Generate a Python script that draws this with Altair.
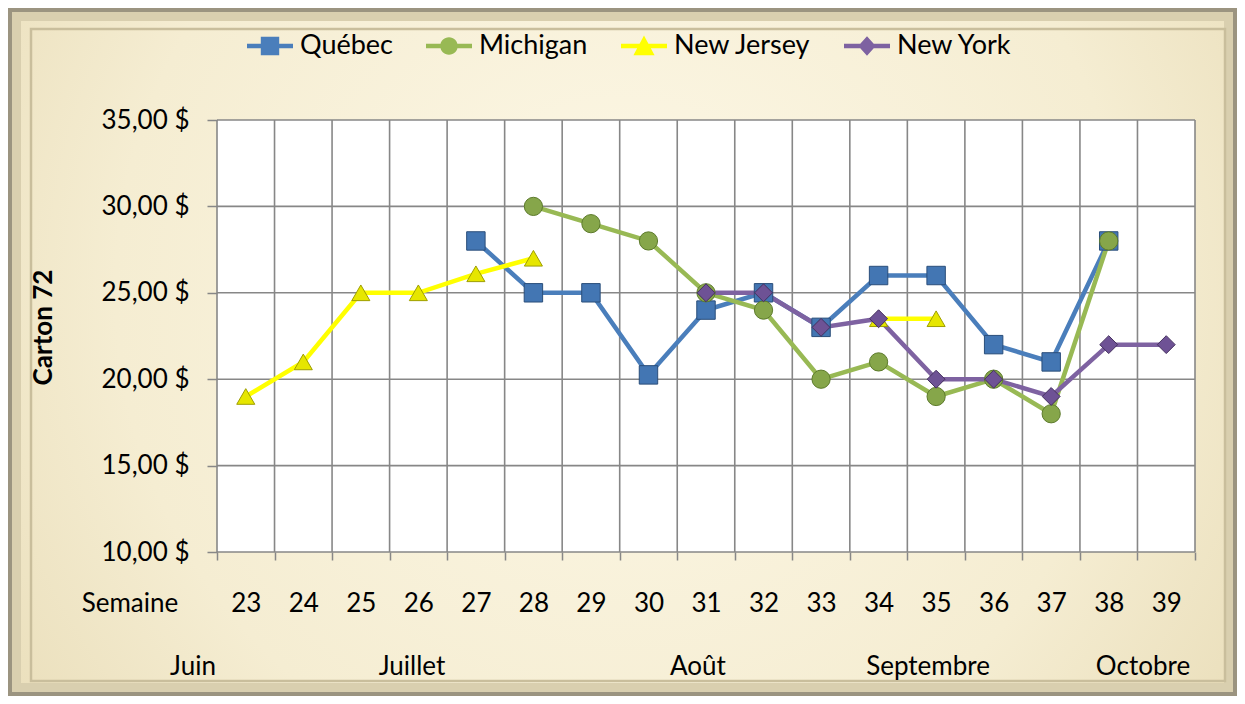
import altair as alt
import pandas as pd

# ---------------- data ----------------
weeks = list(range(23, 40))
series_names = ["Québec", "Michigan", "New Jersey", "New York"]
quebec = [None, None, None, None, 28, 25, 25, 20.25, 24, 25, 23, 26, 26, 22, 21, 28, None]
michigan = [None, None, None, None, None, 30, 29, 28, 25, 24, 20, 21, 19, 20, 18, 28, None]
new_jersey = [19, 21, 25, 25, 26.1, 27, None, None, None, None, None, 23.5, 23.5, None, None, None, None]
new_york = [None, None, None, None, None, None, None, None, 25, 25, 23, 23.5, 20, 20, 19, 22, 22]
y_ticks = [10, 15, 20, 25, 30, 35]
months = ["Juin", "Juillet", "Août", "Septembre", "Octobre"]
x_label_title = "Semaine"
y_title = "Carton 72"

# ---------------- styles ----------------
FONT = "Lato"
GRID = "#878787"
line_colors = ["#4A7EBB", "#98B954", "#FFFF00", "#7E62A1"]
marker_fills = ["#4376B3", "#86A64A", "#E6E600", "#6E5295"]
marker_strokes = ["#2A4E7A", "#5D7B2C", "#9E9E00", "#45305F"]
marker_shapes = ["square", "circle", "triangle-up", "diamond"]
marker_sizes = [340, 320, 420, 360]
# legend glyphs: a short line with the series marker on it (unit box -1..1)
LINE_BAR = "M-1,-0.1H1V0.1H-1Z"
legend_glyphs = [
    LINE_BAR + "M-0.4,-0.4H0.4V0.4H-0.4Z",
    LINE_BAR + "M-0.38,0A0.38,0.38 0 1,1 0.38,0A0.38,0.38 0 1,1 -0.38,0Z",
    LINE_BAR + "M0,-0.46L0.46,0.4L-0.46,0.4Z",
    LINE_BAR + "M0,-0.42L0.38,0L0,0.42L-0.38,0Z",
]

W, H = 978, 432
PAD = {"left": 209, "top": 112, "right": 42, "bottom": 144}
TOTW = PAD["left"] + W + PAD["right"]
TOTH = PAD["top"] + H + PAD["bottom"]

rows = []
for name, vals in zip(series_names, [quebec, michigan, new_jersey, new_york]):
    seg = 0
    prev_valid = False
    for w, v in zip(weeks, vals):
        if v is None:
            if prev_valid:
                seg += 1
            prev_valid = False
            continue
        rows.append({"series": name, "week": w, "value": v, "seg": f"{name}-{seg}"})
        prev_valid = True
df = pd.DataFrame(rows)
one = pd.DataFrame({"k": [0]})

# ---------------- encodings ----------------
x_scale = alt.Scale(domain=weeks, paddingInner=0, paddingOuter=0)
x_axis = alt.Axis(title=None, grid=False, domain=False, tickBand="extent", ticks=True,
                  tickSize=8, tickColor=GRID, tickWidth=1.5, labelFont=FONT, labelFontSize=26,
                  labelColor="black", labelAngle=0, labelPadding=43, labelBaseline="middle",
                  zindex=1)
X = alt.X("week:O", scale=x_scale, axis=x_axis)

y_scale = alt.Scale(domain=[10, 35], nice=False, zero=False)
y_axis = alt.Axis(values=y_ticks, grid=False, domain=False, tickSize=10, tickColor=GRID,
                  tickWidth=1.5, labelFont=FONT, labelFontSize=26, labelColor="black",
                  labelPadding=18,
                  labelExpr="replace(format(datum.value, '.2f'), '.', ',') + ' $'",
                  title=y_title, titleFont=FONT, titleFontSize=26, titleFontWeight="bold",
                  titleColor="black", titleX=-174, titleY=207, titleAngle=270,
                  titleAlign="center", titleBaseline="middle", zindex=1)
Y = alt.Y("value:Q", scale=y_scale, axis=y_axis)

# ---------------- background & frame ----------------
bg = alt.Chart(one).mark_rect(
    fill={"gradient": "radial", "x1": 0.5, "y1": 0.45, "r1": 0, "x2": 0.5, "y2": 0.45, "r2": 0.75,
          "stops": [{"offset": 0, "color": "#FDF8E7"}, {"offset": 0.55, "color": "#F5EDD2"},
                    {"offset": 1, "color": "#E2D4AA"}]}
).encode(x=alt.value(-PAD["left"]), x2=alt.value(TOTW - PAD["left"]),
         y=alt.value(-PAD["top"]), y2=alt.value(TOTH - PAD["top"]))


def frame(l, t, r, b, color, width):
    return alt.Chart(one).mark_rect(fill="transparent", stroke=color, strokeWidth=width).encode(
        x=alt.value(-PAD["left"] + l), x2=alt.value(TOTW - PAD["left"] - r),
        y=alt.value(-PAD["top"] + t), y2=alt.value(TOTH - PAD["top"] - b))


frames = [
    frame(7, 7, 7, 7, "#D9CFAF", 12),
    frame(2, 2, 2, 2, "#9B9480", 4),
    frame(23, 21, 12, 15, "#C9BE9C", 2.5),
]

plot_bg = alt.Chart(one).mark_rect(fill="white").encode(
    x=alt.value(0), x2=alt.value("width"), y=alt.value(0), y2=alt.value("height"))

# ---------------- grid ----------------
ygrid = alt.Chart(pd.DataFrame({"value": y_ticks})).mark_rule(color=GRID, strokeWidth=1.6).encode(y=Y)
xgrid = alt.Chart(pd.DataFrame({"week": weeks})).mark_rule(color=GRID, strokeWidth=1.6).encode(
    x=alt.X("week:O", scale=x_scale, axis=x_axis, bandPosition=0))
xgrid_end = alt.Chart(pd.DataFrame({"week": [weeks[-1]]})).mark_rule(color=GRID, strokeWidth=1.6).encode(
    x=alt.X("week:O", scale=x_scale, axis=x_axis, bandPosition=1))

# ---------------- data marks ----------------
lines = alt.Chart(df).mark_line(strokeWidth=4.5).encode(
    x=X, y=Y,
    color=alt.Color("series:N", scale=alt.Scale(domain=series_names, range=line_colors), legend=None),
    detail="seg:N")

points = alt.Chart(df).mark_point(filled=True, opacity=1, strokeWidth=1).encode(
    x=X, y=Y,
    fill=alt.Fill("series:N", scale=alt.Scale(domain=series_names, range=marker_fills), legend=None),
    shape=alt.Shape("series:N", scale=alt.Scale(domain=series_names, range=marker_shapes), legend=None),
    stroke=alt.Stroke("series:N", scale=alt.Scale(domain=series_names, range=marker_strokes), legend=None),
    size=alt.Size("series:N", scale=alt.Scale(domain=series_names, range=marker_sizes), legend=None))

# ---------------- legend (from an empty layer, scales carry the entries) ----------------
legend = alt.Legend(
    orient="none", legendX=30, legendY=-97, direction="horizontal", title=None,
    symbolSize=2116, symbolStrokeWidth=0, symbolOpacity=1, labelFont=FONT, labelFontSize=27,
    labelColor="black", labelOffset=7, columnPadding=33, padding=0)

legend_src = alt.Chart(df).mark_point(filled=True, opacity=1).encode(
    x=X, y=Y,
    fill=alt.Fill("series:N", scale=alt.Scale(domain=series_names, range=line_colors), legend=legend),
    shape=alt.Shape("series:N", scale=alt.Scale(domain=series_names, range=legend_glyphs), legend=legend),
).transform_filter("false")

# ---------------- annotation texts ----------------
text_style = dict(font=FONT, fontSize=26, color="black", align="center", baseline="middle")
texts = [alt.Chart(one).mark_text(**text_style).encode(
    x=alt.value(-87), y=alt.value(484), text=alt.value(x_label_title))]
month_x = [-24, 195, 481, 711, 926]
for m, mx in zip(months, month_x):
    texts.append(alt.Chart(one).mark_text(**text_style).encode(
        x=alt.value(mx), y=alt.value(547), text=alt.value(m)))

chart = alt.layer(bg, *frames, plot_bg, xgrid, xgrid_end, ygrid, lines, points, legend_src, *texts).resolve_scale(
    fill="independent", shape="independent"
).properties(
    width=W, height=H, padding=PAD, autosize=alt.AutoSizeParams(type="none"), background="white"
).configure_view(stroke=None)

chart.save("out.html", embed_options={"renderer": "svg", "actions": False})
